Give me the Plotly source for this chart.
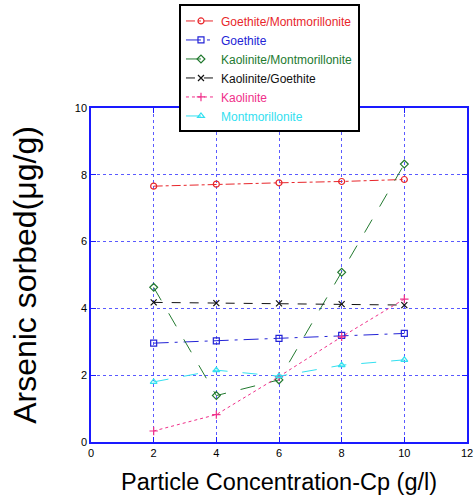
import plotly.graph_objects as go

x = [2, 4, 6, 8, 10]
goethite_mont = [7.66, 7.72, 7.76, 7.80, 7.86]
goethite = [2.96, 3.03, 3.10, 3.19, 3.25]
kaol_mont = [4.63, 1.39, 1.86, 5.08, 8.32]
kaol_goethite = [4.18, 4.16, 4.15, 4.13, 4.10]
kaolinite = [0.33, 0.82, 1.96, 3.15, 4.28]
montmorillonite = [1.80, 2.15, 1.97, 2.30, 2.46]

series = [
    ("Goethite/Montmorillonite", goethite_mont, "#e8262b", "dashdot", "circle-open"),
    ("Goethite", goethite, "#2323d6", "longdashdot", "square-open"),
    ("Kaolinite/Montmorillonite", kaol_mont, "#237a30", "longdash", "diamond-open"),
    ("Kaolinite/Goethite", kaol_goethite, "#111111", "dash", "x-thin-open"),
    ("Kaolinite", kaolinite, "#f0308a", "dot", "cross-thin-open"),
    ("Montmorillonite", montmorillonite, "#33e0f0", "longdash", "triangle-up-open"),
]

fig = go.Figure()
for name, ys, col, dash, sym in series:
    fig.add_trace(go.Scatter(
        x=x, y=ys, mode="lines+markers",
        name=f"<span style='color:{col}'>{name}</span>",
        line=dict(color=col, dash=dash, width=1),
        marker=dict(symbol=sym, size=6, color=col, line=dict(color=col, width=1.2)),
    ))

axis_common = dict(
    showline=True, linecolor="#1a1aff", linewidth=1.5, mirror="ticks",
    ticks="inside", tickcolor="#1a1aff", ticklen=5,
    showgrid=True, gridcolor="#5a5aff", griddash="dot", gridwidth=1,
    zeroline=False, tickfont=dict(size=11, color="black", family="Liberation Sans"),
)

fig.update_layout(
    width=474, height=501,
    margin=dict(l=91, r=7, t=108, b=59, autoexpand=False),
    paper_bgcolor="white", plot_bgcolor="white",
    font=dict(family="Liberation Sans", color="black"),
    showlegend=True,
    legend=dict(
        x=0.234, y=1.31, xanchor="left", yanchor="top",
        bgcolor="white", bordercolor="black", borderwidth=2,
        font=dict(size=12, family="Liberation Sans"),
        itemwidth=30, tracegroupgap=0,
    ),
    xaxis=dict(range=[0, 12], tickvals=[0, 2, 4, 6, 8, 10, 12],
               title=dict(text="Particle Concentration-Cp (g/l)", font=dict(size=23.5), standoff=16),
               **axis_common),
    yaxis=dict(range=[0, 10], tickvals=[0, 2, 4, 6, 8, 10],
               title=dict(text="Arsenic sorbed(μg/g)", font=dict(size=32), standoff=29),
               **axis_common),
)

fig.write_html("out.html")
